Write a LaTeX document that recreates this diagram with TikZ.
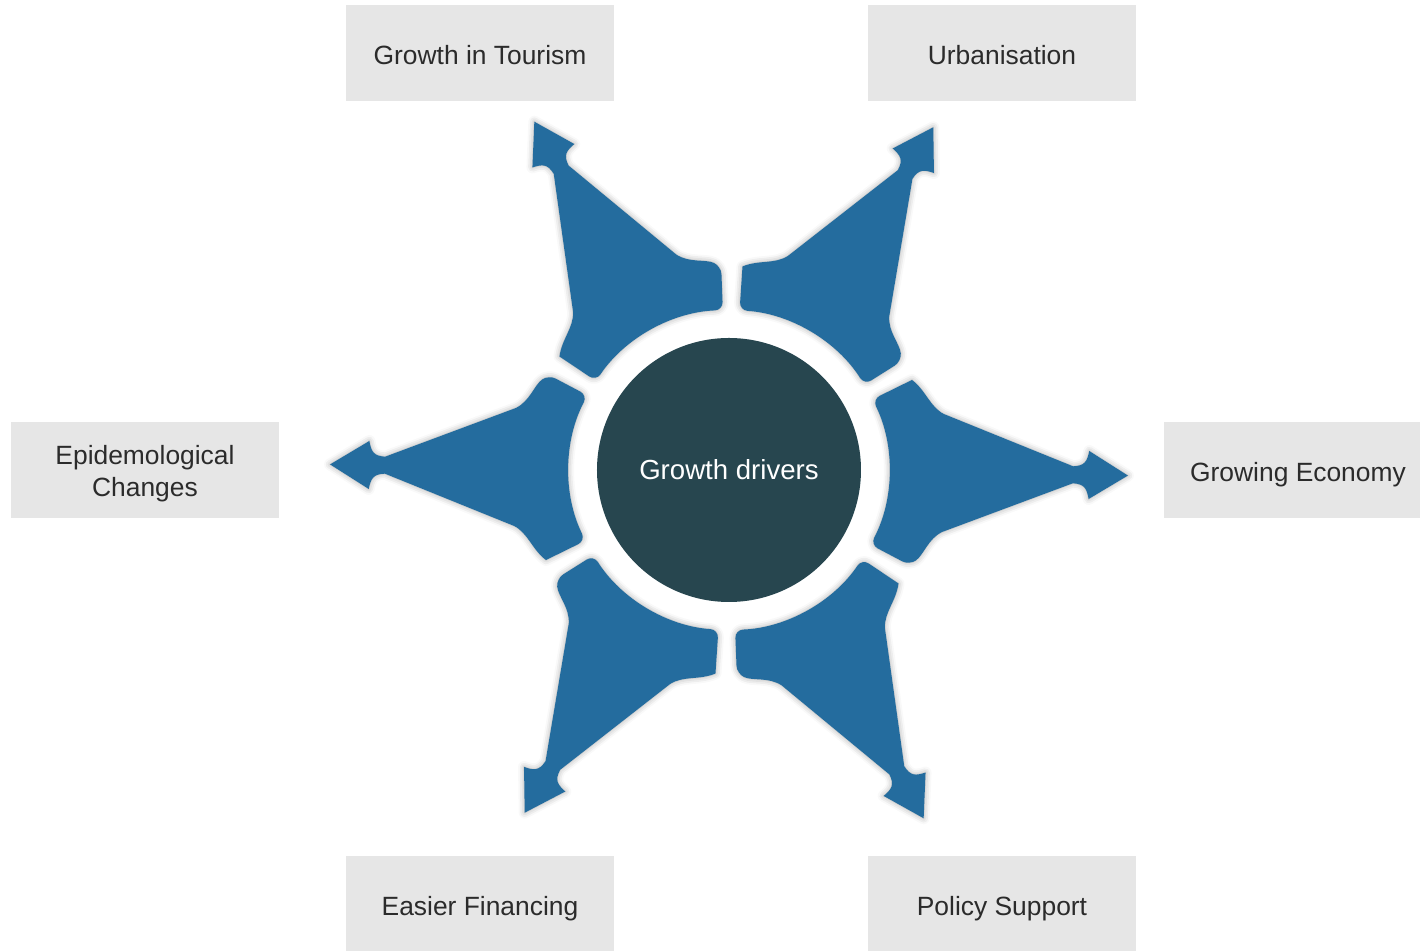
\documentclass[tikz,border=0pt]{standalone}
\usepackage{fontspec}
\setmainfont{Liberation Sans}
\usetikzlibrary{shadows.blur}

\definecolor{spokeblue}{HTML}{246C9E}
\definecolor{hubteal}{HTML}{27464F}
\definecolor{boxgrey}{HTML}{E6E6E6}
\definecolor{labelgrey}{HTML}{2B2B2B}

\begin{document}
\begin{tikzpicture}[x=0.5pt,y=0.5pt,
        driver/.style={fill=boxgrey, text=labelgrey, minimum width=134pt, minimum height=48pt,
            inner sep=0pt, align=center, text height=11.6pt, text depth=0pt,
            font=\fontsize{13.2}{16}\selectfont},
        spoke/.style={fill=spokeblue, blur shadow={shadow xshift=0pt, shadow yshift=0pt,
            shadow blur radius=3pt, shadow opacity=35}},
        hub/.style={circle, fill=hubteal, text=white, minimum size=132pt, inner sep=0pt,
            font=\fontsize{13.8}{16}\selectfont}]
        \useasboundingbox (-729,-481) rectangle (691,470);
        % six spokes round the hub
        \foreach \a in {0,60,...,300}
        {
            \begin{scope}[rotate=\a-0.8]
                \path[spoke] (399,0) -- (360,24) .. controls (358,14) and (356,9) .. (344,8.5)
                    -- (214,59) .. controls (200,66) and (196,82) .. (27:204)
                    [rounded corners=4pt] -- (27:160) arc[start angle=27, end angle=-27, radius=160]
                    -- (-27:204) [sharp corners] .. controls (196,-82) and (200,-66) .. (214,-59)
                    -- (344,-8.5) .. controls (356,-9) and (358,-14) .. (360,-24) -- cycle;
            \end{scope}
        }
        \node[hub] (hub) at (0,0) {Growth drivers};
        % the six drivers
        \node[driver] (tourism) at (-249,417) {Growth in Tourism};
        \node[driver] (urban) at (273,417) {Urbanisation};
        \node[driver, text height=26.8pt] (epidem) at (-584,0) {Epidemological\\Changes};
        \node[driver] (economy) at (569,0) {Growing Economy};
        \node[driver] (finance) at (-249,-434) {Easier Financing};
        \node[driver] (policy) at (273,-434) {Policy Support};
\end{tikzpicture}
\end{document}
